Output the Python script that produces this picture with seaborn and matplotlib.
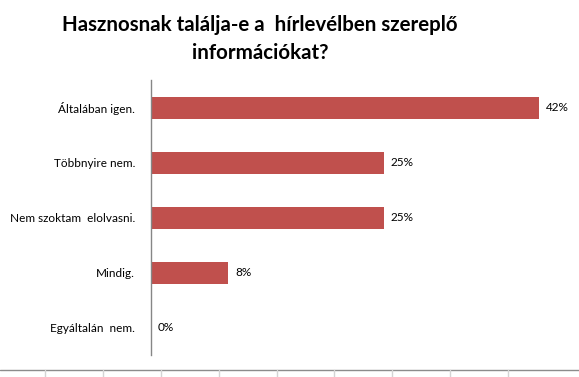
import matplotlib
matplotlib.use("Agg")
import matplotlib.pyplot as plt
from matplotlib.lines import Line2D
import seaborn as sns
import pandas as pd

categories = ["Általában igen.", "Többnyire nem.", "Nem szoktam  elolvasni.", "Mindig.", "Egyáltalán  nem."]
values = [41.67, 25.0, 25.0, 8.33, 0.0]
labels = ["42%", "25%", "25%", "8%", "0%"]

df = pd.DataFrame({"answer": categories, "pct": values})

sns.set_style("white")
plt.rcParams["font.family"] = ["Lato", "DejaVu Sans"]

W, H = 579, 377
fig = plt.figure(figsize=(W / 100, H / 100), dpi=100)
ax = fig.add_axes([151 / W, 1 - 355 / H, (565 - 151) / W, 275 / H])

sns.barplot(data=df, y="answer", x="pct", orient="h", order=categories,
            color="#C0504D", saturation=1, width=0.4, linewidth=0, ax=ax)

ax.set_xlim(0, (565 - 151) / 9.3)
ax.set_ylim(4.5, -0.5)
ax.set_xlabel("")
ax.set_ylabel("")
ax.set_xticks([])
ax.tick_params(axis="y", length=0, pad=11.5, labelsize=8.5, labelcolor="#000000")
for s in ["top", "right", "bottom"]:
    ax.spines[s].set_visible(False)
ax.spines["left"].set_color("#868686")
ax.spines["left"].set_linewidth(1)

for i, (v, lab) in enumerate(zip(values, labels)):
    ax.annotate(lab, xy=(v, i), xytext=(5, 0), textcoords="offset points",
                ha="left", va="center", fontsize=8.5, color="#000000")

tx = 260 / W
fig.text(tx, 1 - 25 / H, "Hasznosnak találja-e a  hírlevélben szereplő",
         ha="center", va="center", fontsize=14.8, fontweight="bold", color="#000000")
fig.text(tx, 1 - 53 / H, "információkat?",
         ha="center", va="center", fontsize=14.8, fontweight="bold", color="#000000")

# spreadsheet grid remnants at the bottom edge
yl = 1 - 370 / H
fig.add_artist(Line2D([0, 1], [yl, yl], color="#8c8c8c", lw=1))
for x in [45, 103, 161, 219, 277, 334, 392, 450, 508]:
    fig.add_artist(Line2D([x / W, x / W], [0, yl], color="#d4d4d4", lw=1))

fig.savefig("out.png", dpi=100)
